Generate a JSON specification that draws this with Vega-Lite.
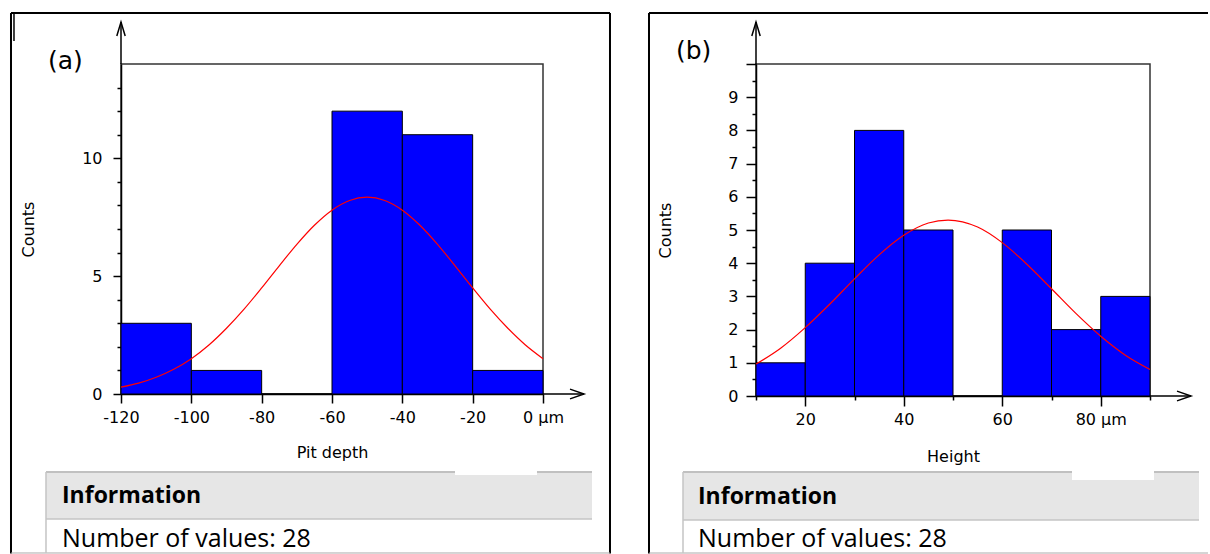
{
  "$schema": "https://vega.github.io/schema/vega-lite/v6.json",
  "background": "white",
  "padding": {"left": 9, "top": 11, "right": 0, "bottom": 0},
  "spacing": 35,
  "config": {
    "view": {"stroke": "#333333", "strokeWidth": 1.5},
    "axis": {
      "domainColor": "#000000", "domainWidth": 1.5,
      "tickColor": "#000000", "tickWidth": 1.5,
      "labelFont": "DejaVu Sans", "labelFontSize": 16, "labelColor": "#000000",
      "titleFont": "DejaVu Sans", "titleFontSize": 16, "titleFontWeight": "normal", "titleColor": "#000000",
      "grid": false, "labelFlush": false, "labelOverlap": false
    }
  },
  "hconcat": [
    {
      "width": 422,
      "height": 330,
      "resolve": {"axis": {"x": "independent", "y": "independent"}},
      "layer": [
        {
          "data": {"values": [
            {"from": -120, "to": -100, "count": 3},
            {"from": -100, "to": -80, "count": 1},
            {"from": -80, "to": -60, "count": 0},
            {"from": -60, "to": -40, "count": 12},
            {"from": -40, "to": -20, "count": 11},
            {"from": -20, "to": 0, "count": 1}
          ]},
          "mark": {"type": "bar", "fill": "#0000ff", "stroke": "#000000", "strokeWidth": 1},
          "encoding": {
            "x": {"field": "from", "type": "quantitative", "scale": {"domain": [-120, 0], "nice": false, "zero": false},
              "axis": {"values": [-120, -100, -80, -60, -40, -20, 0], "tickSize": 9, "labelPadding": 6,
                "labelExpr": "datum.value == 0 ? '\u00a0\u00a0\u00a0\u00a0\u00a0\u00a00 µm' : '-' + (-datum.value)",
                "title": "Pit depth", "titlePadding": 19}},
            "x2": {"field": "to"},
            "y": {"field": "count", "type": "quantitative", "stack": null, "scale": {"domain": [0, 14], "nice": false},
              "axis": {"values": [0, 5, 10], "tickSize": 8, "labelPadding": 11,
                "title": "Counts", "titlePadding": 45}},
            "y2": {"datum": 0}
          }
        },
        {
          "data": {"values": [
            {"depth": -120, "fit": 0.29}, {"depth": -115, "fit": 0.46}, {"depth": -110, "fit": 0.71},
            {"depth": -105, "fit": 1.05}, {"depth": -100, "fit": 1.5}, {"depth": -95, "fit": 2.08},
            {"depth": -90, "fit": 2.79}, {"depth": -85, "fit": 3.6}, {"depth": -80, "fit": 4.5},
            {"depth": -75, "fit": 5.44}, {"depth": -70, "fit": 6.35}, {"depth": -65, "fit": 7.16},
            {"depth": -60, "fit": 7.8}, {"depth": -55, "fit": 8.21}, {"depth": -50, "fit": 8.35},
            {"depth": -45, "fit": 8.21}, {"depth": -40, "fit": 7.8}, {"depth": -35, "fit": 7.16},
            {"depth": -30, "fit": 6.35}, {"depth": -25, "fit": 5.44}, {"depth": -20, "fit": 4.5},
            {"depth": -15, "fit": 3.6}, {"depth": -10, "fit": 2.79}, {"depth": -5, "fit": 2.08},
            {"depth": 0, "fit": 1.5}
          ]},
          "mark": {"type": "line", "stroke": "#ff0000", "strokeWidth": 1.2, "interpolate": "monotone"},
          "encoding": {
            "x": {"field": "depth", "type": "quantitative", "axis": null},
            "y": {"field": "fit", "type": "quantitative",
              "axis": {"orient": "left", "values": [1, 2, 3, 4, 6, 7, 8, 9, 11, 12, 13], "tickSize": 4, "labels": false, "domain": false, "title": null}}
          }
        },
        {
          "data": {"values": [{}]},
          "mark": {"type": "rule", "stroke": "#000000", "strokeWidth": 1.5},
          "encoding": {"x": {"datum": -120, "type": "quantitative", "axis": null}, "y": {"datum": 14, "type": "quantitative", "axis": null}, "y2": {"datum": 15.782}}
        },
        {
          "data": {"values": [{}]},
          "mark": {"type": "point", "shape": "M-0.3,1L0,0L0.3,1", "size": 784, "filled": false, "stroke": "#000000", "strokeWidth": 1.5, "opacity": 1},
          "encoding": {"x": {"datum": -120, "type": "quantitative", "axis": null}, "y": {"datum": 15.782, "type": "quantitative", "axis": null}}
        },
        {
          "data": {"values": [{}]},
          "mark": {"type": "rule", "stroke": "#000000", "strokeWidth": 1.5},
          "encoding": {"x": {"datum": 0, "type": "quantitative", "axis": null}, "x2": {"datum": 11.66}, "y": {"datum": 0, "type": "quantitative", "axis": null}}
        },
        {
          "data": {"values": [{}]},
          "mark": {"type": "point", "shape": "M-1,-0.35L0,0L-1,0.35", "size": 784, "filled": false, "stroke": "#000000", "strokeWidth": 1.5, "opacity": 1},
          "encoding": {"x": {"datum": 11.66, "type": "quantitative", "axis": null}, "y": {"datum": 0, "type": "quantitative", "axis": null}}
        },
        {
          "data": {"values": [{}]},
          "mark": {"type": "rule", "stroke": "#000000", "strokeWidth": 2},
          "encoding": {"x": {"datum": -151.28, "type": "quantitative", "axis": null}, "x2": {"datum": 19.05}, "y": {"datum": 16.164, "type": "quantitative", "axis": null}}
        },
        {
          "data": {"values": [{}]},
          "mark": {"type": "rule", "stroke": "#000000", "strokeWidth": 2},
          "encoding": {"x": {"datum": -151.28, "type": "quantitative", "axis": null}, "y": {"datum": 16.164, "type": "quantitative", "axis": null}, "y2": {"datum": -6.767}}
        },
        {
          "data": {"values": [{}]},
          "mark": {"type": "rule", "stroke": "#000000", "strokeWidth": 2},
          "encoding": {"x": {"datum": 19.05, "type": "quantitative", "axis": null}, "y": {"datum": 16.164, "type": "quantitative", "axis": null}, "y2": {"datum": -6.767}}
        },
        {
          "data": {"values": [{}]},
          "mark": {"type": "rule", "stroke": "#000000", "strokeWidth": 1.5},
          "encoding": {"x": {"datum": -150.43, "type": "quantitative", "axis": null}, "y": {"datum": 16.164, "type": "quantitative", "axis": null}, "y2": {"datum": 14.976}}
        },
        {
          "data": {"values": [{}]},
          "mark": {"type": "rule", "stroke": "#aaaaaa", "strokeWidth": 1},
          "encoding": {"x": {"datum": -151.28, "type": "quantitative", "axis": null}, "x2": {"datum": 19.05}, "y": {"datum": -6.745, "type": "quantitative", "axis": null}}
        },
        {
          "data": {"values": [{}]},
          "mark": {"type": "rect", "fill": "#e6e6e6"},
          "encoding": {"x": {"datum": -141.33, "type": "quantitative", "axis": null}, "x2": {"datum": 13.93}, "y": {"datum": -3.309, "type": "quantitative", "axis": null}, "y2": {"datum": -5.303}}
        },
        {
          "data": {"values": [{}]},
          "mark": {"type": "rule", "stroke": "#c0c0c0", "strokeWidth": 2},
          "encoding": {"x": {"datum": -141.33, "type": "quantitative", "axis": null}, "x2": {"datum": 13.93}, "y": {"datum": -3.309, "type": "quantitative", "axis": null}}
        },
        {
          "data": {"values": [{}]},
          "mark": {"type": "rule", "stroke": "#c4c4c4", "strokeWidth": 1.5},
          "encoding": {"x": {"datum": -141.33, "type": "quantitative", "axis": null}, "x2": {"datum": 13.93}, "y": {"datum": -5.303, "type": "quantitative", "axis": null}}
        },
        {
          "data": {"values": [{}]},
          "mark": {"type": "rule", "stroke": "#c4c4c4", "strokeWidth": 1.5},
          "encoding": {"x": {"datum": -141.33, "type": "quantitative", "axis": null}, "y": {"datum": -3.309, "type": "quantitative", "axis": null}, "y2": {"datum": -6.745}}
        },
        {
          "data": {"values": [{}]},
          "mark": {"type": "rect", "fill": "#ffffff"},
          "encoding": {"x": {"datum": -25.02, "type": "quantitative", "axis": null}, "x2": {"datum": -1.71}, "y": {"datum": -3.182, "type": "quantitative", "axis": null}, "y2": {"datum": -3.436}}
        },
        {
          "data": {"values": [{}]},
          "mark": {"type": "text", "text": "Information", "font": "Open Sans", "fontSize": 23, "fontWeight": "bold", "align": "left", "baseline": "alphabetic", "fill": "#000000"},
          "encoding": {"x": {"datum": -136.78, "type": "quantitative", "axis": null}, "y": {"datum": -4.624, "type": "quantitative", "axis": null}}
        },
        {
          "data": {"values": [{}]},
          "mark": {"type": "text", "text": "Number of values: 28", "font": "Open Sans", "fontSize": 25, "align": "left", "baseline": "alphabetic", "fill": "#000000"},
          "encoding": {"x": {"datum": -136.78, "type": "quantitative", "axis": null}, "y": {"datum": -6.491, "type": "quantitative", "axis": null}}
        },
        {
          "data": {"values": [{}]},
          "mark": {"type": "text", "text": "(a)", "font": "DejaVu Sans", "fontSize": 25, "align": "left", "baseline": "alphabetic", "fill": "#000000"},
          "encoding": {"x": {"datum": -140.76, "type": "quantitative", "axis": null}, "y": {"datum": 13.767, "type": "quantitative", "axis": null}}
        }
      ]
    },
    {
      "width": 394,
      "height": 332,
      "resolve": {"axis": {"x": "independent", "y": "independent"}},
      "layer": [
        {
          "data": {"values": [
            {"from": 10, "to": 20, "count": 1},
            {"from": 20, "to": 30, "count": 4},
            {"from": 30, "to": 40, "count": 8},
            {"from": 40, "to": 50, "count": 5},
            {"from": 50, "to": 60, "count": 0},
            {"from": 60, "to": 70, "count": 5},
            {"from": 70, "to": 80, "count": 2},
            {"from": 80, "to": 90, "count": 3}
          ]},
          "mark": {"type": "bar", "fill": "#0000ff", "stroke": "#000000", "strokeWidth": 1},
          "encoding": {
            "x": {"field": "from", "type": "quantitative", "scale": {"domain": [10, 90], "nice": false, "zero": false},
              "axis": {"values": [20, 40, 60, 80], "tickSize": 10, "labelPadding": 5,
                "labelExpr": "datum.value == 80 ? '\u00a0\u00a0\u00a0\u00a0\u00a0\u00a080 µm' : datum.label",
                "title": "Height", "titlePadding": 21}},
            "x2": {"field": "to"},
            "y": {"field": "count", "type": "quantitative", "stack": null, "scale": {"domain": [0, 10], "nice": false},
              "axis": {"values": [0, 1, 2, 3, 4, 5, 6, 7, 8, 9, 10], "tickSize": 10, "labelPadding": 8,
                "labelExpr": "datum.value < 10 ? datum.label : ''",
                "title": "Counts", "titlePadding": 54}},
            "y2": {"datum": 0}
          }
        },
        {
          "data": {"values": [
            {"height": 10, "fit": 0.96}, {"height": 15, "fit": 1.44}, {"height": 20, "fit": 2.06},
            {"height": 25, "fit": 2.77}, {"height": 30, "fit": 3.53}, {"height": 35, "fit": 4.25},
            {"height": 40, "fit": 4.84}, {"height": 45, "fit": 5.21}, {"height": 49, "fit": 5.3},
            {"height": 55, "fit": 5.09}, {"height": 60, "fit": 4.62}, {"height": 65, "fit": 3.97},
            {"height": 70, "fit": 3.23}, {"height": 75, "fit": 2.48}, {"height": 80, "fit": 1.8},
            {"height": 85, "fit": 1.23}, {"height": 90, "fit": 0.8}
          ]},
          "mark": {"type": "line", "stroke": "#ff0000", "strokeWidth": 1.2, "interpolate": "monotone"},
          "encoding": {
            "x": {"field": "height", "type": "quantitative",
              "axis": {"orient": "bottom", "values": [10, 30, 50, 70, 90], "tickSize": 4, "labels": false, "domain": false, "title": null}},
            "y": {"field": "fit", "type": "quantitative",
              "axis": {"orient": "left", "values": [0.5, 1.5, 2.5, 3.5, 4.5, 5.5, 6.5, 7.5, 8.5, 9.5], "tickSize": 4, "labels": false, "domain": false, "title": null}}
          }
        },
        {
          "data": {"values": [{}]},
          "mark": {"type": "rule", "stroke": "#000000", "strokeWidth": 1.5},
          "encoding": {"x": {"datum": 10, "type": "quantitative", "axis": null}, "y": {"datum": 10, "type": "quantitative", "axis": null}, "y2": {"datum": 11.265}}
        },
        {
          "data": {"values": [{}]},
          "mark": {"type": "point", "shape": "M-0.3,1L0,0L0.3,1", "size": 784, "filled": false, "stroke": "#000000", "strokeWidth": 1.5, "opacity": 1},
          "encoding": {"x": {"datum": 10, "type": "quantitative", "axis": null}, "y": {"datum": 11.265, "type": "quantitative", "axis": null}}
        },
        {
          "data": {"values": [{}]},
          "mark": {"type": "rule", "stroke": "#000000", "strokeWidth": 1.5},
          "encoding": {"x": {"datum": 90, "type": "quantitative", "axis": null}, "x2": {"datum": 98.325}, "y": {"datum": 0, "type": "quantitative", "axis": null}}
        },
        {
          "data": {"values": [{}]},
          "mark": {"type": "point", "shape": "M-1,-0.35L0,0L-1,0.35", "size": 784, "filled": false, "stroke": "#000000", "strokeWidth": 1.5, "opacity": 1},
          "encoding": {"x": {"datum": 98.325, "type": "quantitative", "axis": null}, "y": {"datum": 0, "type": "quantitative", "axis": null}}
        },
        {
          "data": {"values": [{}]},
          "mark": {"type": "rule", "stroke": "#000000", "strokeWidth": 2},
          "encoding": {"x": {"datum": -11.726, "type": "quantitative", "axis": null}, "x2": {"datum": 101.776}, "y": {"datum": 11.536, "type": "quantitative", "axis": null}}
        },
        {
          "data": {"values": [{}]},
          "mark": {"type": "rule", "stroke": "#000000", "strokeWidth": 2},
          "encoding": {"x": {"datum": -11.726, "type": "quantitative", "axis": null}, "y": {"datum": 11.536, "type": "quantitative", "axis": null}, "y2": {"datum": -4.744}}
        },
        {
          "data": {"values": [{}]},
          "mark": {"type": "rule", "stroke": "#aaaaaa", "strokeWidth": 1},
          "encoding": {"x": {"datum": -11.726, "type": "quantitative", "axis": null}, "x2": {"datum": 101.776}, "y": {"datum": -4.729, "type": "quantitative", "axis": null}}
        },
        {
          "data": {"values": [{}]},
          "mark": {"type": "rect", "fill": "#e6e6e6"},
          "encoding": {"x": {"datum": -4.822, "type": "quantitative", "axis": null}, "x2": {"datum": 99.949}, "y": {"datum": -2.289, "type": "quantitative", "axis": null}, "y2": {"datum": -3.735}}
        },
        {
          "data": {"values": [{}]},
          "mark": {"type": "rule", "stroke": "#c0c0c0", "strokeWidth": 2},
          "encoding": {"x": {"datum": -4.822, "type": "quantitative", "axis": null}, "x2": {"datum": 99.949}, "y": {"datum": -2.289, "type": "quantitative", "axis": null}}
        },
        {
          "data": {"values": [{}]},
          "mark": {"type": "rule", "stroke": "#c4c4c4", "strokeWidth": 1.5},
          "encoding": {"x": {"datum": -4.822, "type": "quantitative", "axis": null}, "x2": {"datum": 99.949}, "y": {"datum": -3.735, "type": "quantitative", "axis": null}}
        },
        {
          "data": {"values": [{}]},
          "mark": {"type": "rule", "stroke": "#c4c4c4", "strokeWidth": 1.5},
          "encoding": {"x": {"datum": -4.822, "type": "quantitative", "axis": null}, "y": {"datum": -2.289, "type": "quantitative", "axis": null}, "y2": {"datum": -4.729}}
        },
        {
          "data": {"values": [{}]},
          "mark": {"type": "rect", "fill": "#ffffff"},
          "encoding": {"x": {"datum": 74.162, "type": "quantitative", "axis": null}, "x2": {"datum": 90.812}, "y": {"datum": -2.199, "type": "quantitative", "axis": null}, "y2": {"datum": -2.53}}
        },
        {
          "data": {"values": [{}]},
          "mark": {"type": "text", "text": "Information", "font": "Open Sans", "fontSize": 23, "fontWeight": "bold", "align": "left", "baseline": "alphabetic", "fill": "#000000"},
          "encoding": {"x": {"datum": -1.777, "type": "quantitative", "axis": null}, "y": {"datum": -3.253, "type": "quantitative", "axis": null}}
        },
        {
          "data": {"values": [{}]},
          "mark": {"type": "text", "text": "Number of values: 28", "font": "Open Sans", "fontSize": 25, "align": "left", "baseline": "alphabetic", "fill": "#000000"},
          "encoding": {"x": {"datum": -1.777, "type": "quantitative", "axis": null}, "y": {"datum": -4.548, "type": "quantitative", "axis": null}}
        },
        {
          "data": {"values": [{}]},
          "mark": {"type": "text", "text": "(b)", "font": "DejaVu Sans", "fontSize": 25, "align": "left", "baseline": "alphabetic", "fill": "#000000"},
          "encoding": {"x": {"datum": -6.244, "type": "quantitative", "axis": null}, "y": {"datum": 10.136, "type": "quantitative", "axis": null}}
        }
      ]
    }
  ]
}
